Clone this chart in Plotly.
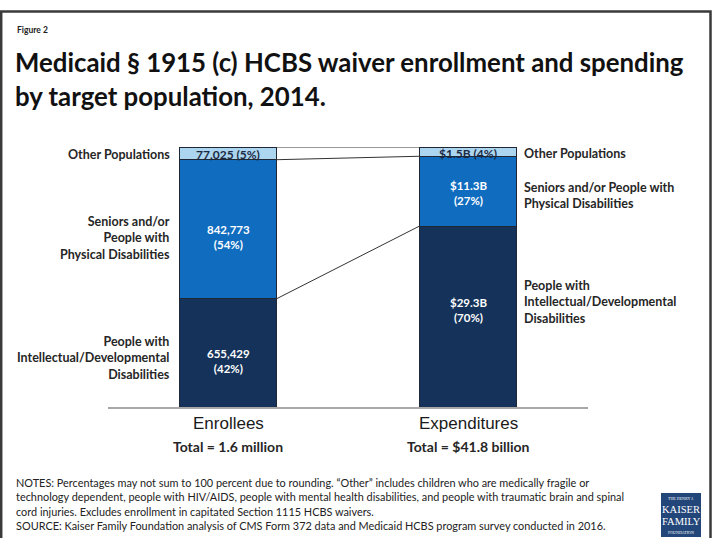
import plotly.graph_objects as go

# ---- data ----
categories = ["Enrollees", "Expenditures"]
totals_text = ["Total = 1.6 million", "Total = $41.8 billion"]

groups = [
    "People with Intellectual/Developmental Disabilities",
    "Seniors and/or People with Physical Disabilities",
    "Other Populations",
]
enrollees = [655429, 842773, 77025]
expenditures_billion = [29.3, 11.3, 1.5]
enrollee_pct = [42, 54, 5]
spending_pct = [70, 27, 4]

enrollee_text = ["655,429<br>(42%)", "842,773<br>(54%)", "77,025 (5%)"]
spending_text = ["$29.3B<br>(70%)", "$11.3B<br>(27%)", "$1.5B (4%)"]
left_labels = [
    "People with<br>Intellectual/Developmental<br>Disabilities",
    "Seniors and/or<br>People with<br>Physical Disabilities",
    "Other Populations",
]
right_labels = [
    "People with<br>Intellectual/Developmental<br>Disabilities",
    "Seniors and/or People with<br>Physical Disabilities",
    "Other Populations",
]

# ---- styles ----
colors = ["#15335a", "#0f6cbf", "#acd5ef"]
inbar_font_colors = ["white", "white", "#1b2a44"]
W, H = 712, 538
BAR_W = 0.404
SANS = "Lato"
ARIAL = "Liberation Sans"
TEXT = "#262626"


def px_x(p):
    return p / W


def px_y(p):
    return 1 - p / H


def shares(values):
    total = sum(values)
    return [v / total * 100 for v in values]


enroll_share = shares(enrollees)
spend_share = shares(expenditures_billion)


def cumulative(values):
    out, run = [], 0
    for v in values:
        out.append((run, run + v))
        run += v
    return out


enroll_cum = cumulative(enroll_share)
spend_cum = cumulative(spend_share)

fig = go.Figure()
for i, g in enumerate(groups):
    fig.add_trace(go.Bar(
        name=g,
        x=categories,
        y=[enroll_share[i], spend_share[i]],
        width=BAR_W,
        marker=dict(color=colors[i], line=dict(color="#1e2733", width=1)),
        hoverinfo="skip",
        showlegend=False,
    ))

annotations = []
shapes = []

# labels inside the bars
inbar_shift = [[-8, -8, -1.5], [7, -2, -1.5]]
inbar_size = [11.5, 11.5, 12]
for col, (cum, texts) in enumerate([(enroll_cum, enrollee_text), (spend_cum, spending_text)]):
    for i in range(3):
        lo, hi = cum[i]
        annotations.append(dict(
            x=categories[col], y=(lo + hi) / 2, xref="x", yref="y",
            text=f"<b>{texts[i]}</b>", showarrow=False,
            font=dict(family=SANS, size=inbar_size[i], color=inbar_font_colors[i]),
            yshift=inbar_shift[col][i],
        ))

# group labels left of enrollees / right of expenditures
left_shift = [-5, -9, -1]
right_shift = [15, -4, -2]
for i in range(3):
    lo, hi = enroll_cum[i]
    annotations.append(dict(
        x=0 - BAR_W / 2, y=(lo + hi) / 2, xref="x", yref="y",
        text=f"<b>{left_labels[i]}</b>", showarrow=False, align="right",
        xanchor="right", xshift=-8, yshift=left_shift[i],
        font=dict(family=SANS, size=12.5, color=TEXT),
    ))
    lo, hi = spend_cum[i]
    annotations.append(dict(
        x=1 + BAR_W / 2, y=(lo + hi) / 2, xref="x", yref="y",
        text=f"<b>{right_labels[i]}</b>", showarrow=False, align="left",
        xanchor="left", xshift=6, yshift=right_shift[i],
        font=dict(family=SANS, size=12.5, color=TEXT),
    ))

# category names and totals under the bars
for col, cat in enumerate(categories):
    annotations.append(dict(
        x=cat, y=0, xref="x", yref="y", yanchor="top", yshift=-5,
        text=cat, showarrow=False,
        font=dict(family=ARIAL, size=17, color="#1a1a1a"),
    ))
    annotations.append(dict(
        x=cat, y=0, xref="x", yref="y", yanchor="top", yshift=-29,
        text=f"<b>{totals_text[col]}</b>", showarrow=False,
        font=dict(family=SANS, size=14, color=TEXT),
    ))

# connector lines between the two stacks
for level in range(3):
    if level < 2:
        y_left, y_right = enroll_cum[level][1], spend_cum[level][1]
    else:
        y_left = y_right = 100
    shapes.append(dict(
        type="line", xref="x", yref="y",
        x0=0 + BAR_W / 2, x1=1 - BAR_W / 2, y0=y_left, y1=y_right,
        line=dict(color="#333333", width=1),
    ))

# title block
annotations += [
    dict(x=px_x(15), y=px_y(30), xref="paper", yref="paper", xanchor="left", yanchor="middle",
         text="<b>Figure 2</b>", showarrow=False, font=dict(family=SANS, size=8.5, color="#222")),
    dict(x=px_x(13), y=px_y(62), xref="paper", yref="paper", xanchor="left", yanchor="middle",
         text="<b>Medicaid § 1915 (c) HCBS waiver enrollment and spending</b>", showarrow=False,
         font=dict(family=SANS, size=25.8, color="#111")),
    dict(x=px_x(13), y=px_y(96), xref="paper", yref="paper", xanchor="left", yanchor="middle",
         text="<b>by target population, 2014.</b>", showarrow=False,
         font=dict(family=SANS, size=25.8, color="#111")),
]

# notes and source
notes = [
    "NOTES: Percentages may not sum to 100 percent due to rounding. “Other” includes children who are medically fragile or",
    "technology dependent, people with HIV/AIDS, people with mental health disabilities, and people with traumatic brain and spinal",
    "cord injuries. Excludes enrollment in capitated Section 1115 HCBS waivers.",
    "SOURCE: Kaiser Family Foundation analysis of CMS Form 372 data and Medicaid HCBS program survey conducted in 2016.",
]
for k, line in enumerate(notes):
    annotations.append(dict(
        x=px_x(14), y=px_y(482 + 14.6 * k), xref="paper", yref="paper",
        xanchor="left", yanchor="middle", text=line, showarrow=False,
        font=dict(family=SANS, size=10.9, color="#222"),
    ))

# foundation logo
shapes.append(dict(type="rect", xref="paper", yref="paper",
                   x0=px_x(661), x1=px_x(701), y0=px_y(537), y1=px_y(493),
                   fillcolor="#22467a", line=dict(width=0)))
logo = [("THE HENRY J.", 4, 498), ("KAISER", 10.5, 509), ("FAMILY", 10.5, 521), ("FOUNDATION", 4, 532)]
for txt, sz, yy in logo:
    annotations.append(dict(
        x=px_x(681), y=px_y(yy), xref="paper", yref="paper", xanchor="center", yanchor="middle",
        text=txt, showarrow=False, font=dict(family="Liberation Serif", size=sz, color="white"),
    ))

# outer frame
shapes.append(dict(type="rect", xref="paper", yref="paper",
                   x0=px_x(1.2), x1=px_x(710.5), y0=-0.02, y1=px_y(11.5),
                   line=dict(color="#3a3a3a", width=2.5)))

fig.update_layout(
    width=W, height=H,
    margin=dict(l=0, r=0, t=0, b=0),
    paper_bgcolor="white", plot_bgcolor="white",
    barmode="stack",
    xaxis=dict(domain=[px_x(108), px_x(588)], range=[-0.5, 1.5], showticklabels=False,
               ticks="", showgrid=False, zeroline=False,
               showline=True, linecolor="#a8a8a8", linewidth=2, fixedrange=True),
    yaxis=dict(domain=[px_y(407), px_y(147)], range=[0, 100], visible=False, fixedrange=True),
    annotations=annotations,
    shapes=shapes,
    showlegend=False,
)

fig.write_html("out.html")
